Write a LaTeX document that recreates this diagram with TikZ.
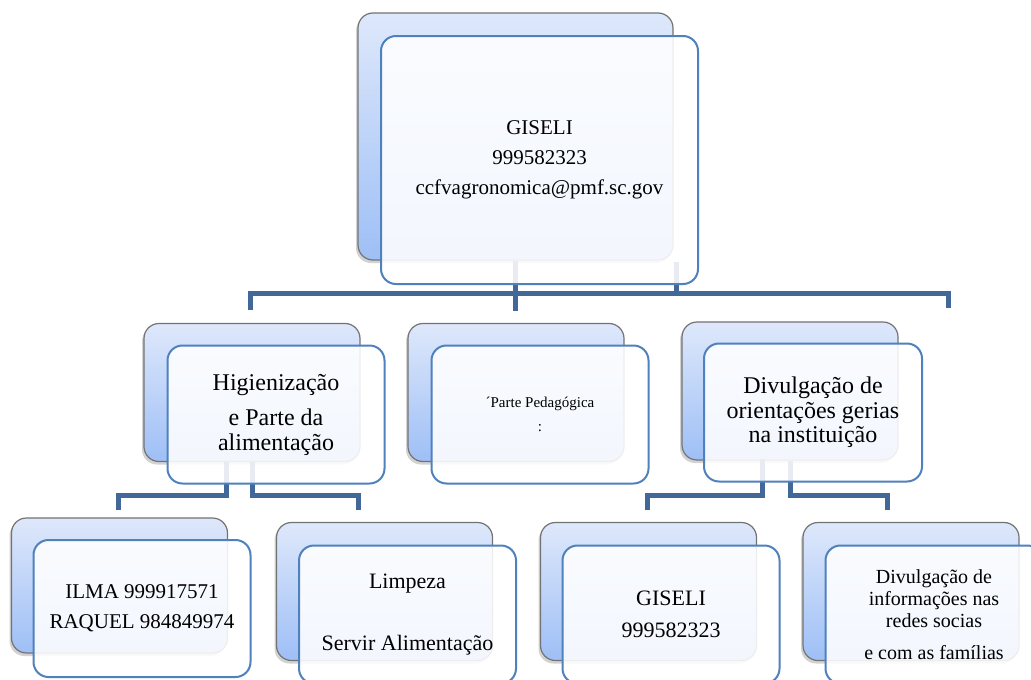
\documentclass[tikz,border=0pt]{standalone}
\usepackage{fontspec}
\setmainfont{Liberation Serif}
\usetikzlibrary{shadows,calc}
\definecolor{colLINE}{RGB}{66,104,154}
\definecolor{colEDGE}{RGB}{79,129,189}
\definecolor{colTOPB}{RGB}{222,232,251}
\definecolor{colBOTB}{RGB}{158,191,246}
\definecolor{colGREY}{RGB}{115,115,115}

\begin{document}
\begin{tikzpicture}[x=1pt, y=-1pt,
    backbox/.style={draw=colGREY, line width=1.2pt, rounded corners=15pt,
      top color=colTOPB, bottom color=colBOTB, inner sep=0pt,
      minimum width=216pt, minimum height=138pt,
      drop shadow={shadow xshift=-2pt, shadow yshift=-3pt, opacity=0.35}},
    frontbox/.style={draw=colEDGE, line width=2pt, rounded corners=15pt,
      fill=white, fill opacity=0.88, text opacity=1, inner sep=0pt,
      minimum width=217pt, minimum height=138pt, align=center},
    conn/.style={draw=colLINE, line width=5pt}]
      \useasboundingbox (0,0) rectangle (1031,680);
      \fill[white] (0,0) rectangle (1031,680);
      \clip (0,0) rectangle (1031,680);
      % Back boxes
      \node[backbox, minimum width=315pt, minimum height=247pt] (topback) at (515.5,136.5) {};
      \node[backbox] (higback) at (252,392.5) {};
      \node[backbox] (pedback) at (516,392.5) {};
      \node[backbox] (divback) at (790,391) {};
      \node[backbox, minimum height=135pt] (ilmaback) at (119.5,585.5) {};
      \node[backbox] (limback) at (384.5,591.5) {};
      \node[backbox] (gisback) at (648.5,591.5) {};
      \node[backbox] (redback) at (911,591.5) {};
      % Connectors, top level
      \coordinate (barL) at (250,293);
      \coordinate (barR) at (948,293);
      \coordinate (stub) at (676,262);
      \draw[conn] ($(barL)+(0,17)$) -- (barL) -- (barR) -- ++(0,15);
      \draw[conn] (topback.south) -- ++(0,50);
      \draw[conn] (stub) -- (stub|-barR);
      % Connectors, left branch
      \coordinate (barHL) at (118,495);
      \coordinate (barHR) at (358,495);
      \draw[conn] ($(barHL)+(0,15)$) -- (barHL) -| (226,462);
      \draw[conn] (higback.south) |- (barHR) -- ++(0,15);
      % Connectors, right branch
      \coordinate (barDL) at (647,495);
      \coordinate (barDR) at (887,495);
      \draw[conn] ($(barDL)+(0,15)$) -- (barDL) -| (762,459);
      \draw[conn] (divback.south) |- (barDR) -- ++(0,15);
      % Front boxes with text
      \node[frontbox, minimum width=317pt, minimum height=248pt,
        font=\fontsize{21}{30}\selectfont] (top) at (539.5,160)
        {GISELI\\999582323\\ccfvagronomica@pmf.sc.gov};
      \node[frontbox, font=\fontsize{24}{25}\selectfont] (hig) at (276,414.5)
        {Higienização\\[10pt]e Parte da\\alimentação};
      \node[frontbox, font=\fontsize{15}{24}\selectfont] (ped) at (540,414.5)
        {´Parte Pedagógica\\:};
      \node[frontbox, minimum width=218pt, font=\fontsize{24}{24.5}\selectfont] (div) at (813,412.5)
        {Divulgação de\\orientações gerias\\na instituição};
      \node[frontbox, minimum height=137pt, font=\fontsize{21}{30}\selectfont] (ilma) at (142,608.5)
        {ILMA 999917571\\RAQUEL 984849974};
      \node[frontbox, font=\fontsize{22}{31}\selectfont] (lim) at (407.5,614.5)
        {Limpeza\\[31pt]Servir Alimentação};
      \node[frontbox, font=\fontsize{22}{32}\selectfont] (gis) at (671,614.5)
        {GISELI\\999582323};
      \node[frontbox, font=\fontsize{20}{22}\selectfont] (red) at (934,614.5)
        {Divulgação de\\informações nas\\redes socias\\[10pt]e com as famílias};
    \end{tikzpicture}
\end{document}
